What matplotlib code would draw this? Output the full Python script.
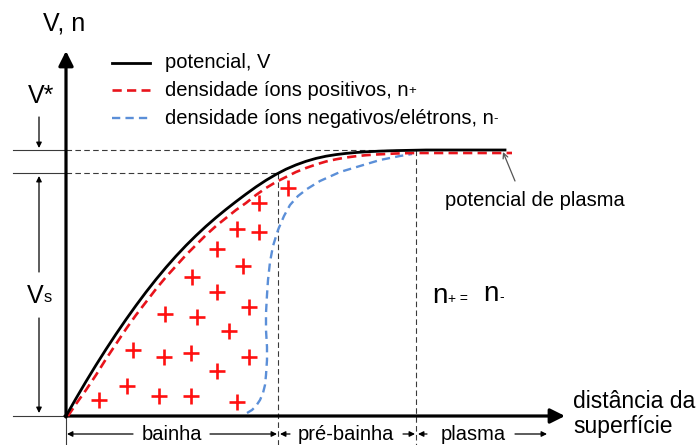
import matplotlib.pyplot as plt

plt.rcParams['font.family'] = ['Liberation Sans', 'DejaVu Sans']

# curves (schematic units, origin = surface)
pot_x = [0, 10, 20, 30, 40, 50, 60, 70, 80, 90, 100, 110, 120, 130, 140, 150, 160, 170, 180,
         190, 200, 210, 220, 230, 240, 250, 260, 270, 280, 290, 300, 310, 320, 330, 340, 350, 360, 439]
pot_y = [0, 17.5, 34.5, 50.9, 66.7, 81.9, 96.5, 110.5, 123.9, 136.6, 148.6, 159.9, 170.5, 180.4,
         189.7, 198.4, 206.6, 214.4, 221.9, 229.1, 235.7, 241.6, 246.8, 251.1, 254.7, 257.6, 259.8,
         261.4, 262.6, 263.5, 264.2, 264.7, 265.1, 265.4, 265.6, 265.8, 266, 266]

npos_x = [2, 10, 20, 30, 40, 50, 60, 70, 80, 90, 100, 110, 120, 130, 140, 150, 160, 170, 180,
          190, 200, 210, 220, 230, 240, 250, 260, 270, 280, 290, 300, 310, 320, 330, 340, 350, 360, 446]
npos_y = [0, 12, 26, 41, 57, 72, 87, 101, 114, 127, 139, 150, 161, 171, 181, 190, 198, 206, 213,
          221, 228, 234, 239, 244, 248, 251.5, 254.5, 256.7, 258.5, 259.8, 260.8, 261.5, 262, 262.5,
          262.8, 263, 263, 263]

nneg_x = [181, 186, 190, 194, 197, 199, 200, 201, 201, 200, 200, 201, 202, 204, 207, 212, 218, 224,
          232, 241, 254, 274, 294, 314, 334, 346]
nneg_y = [3, 6, 10, 16, 23, 31, 41, 56, 69, 86, 103, 121, 136, 154, 170, 186, 200, 211, 220, 227,
          235, 244, 250, 256, 260, 262]

plus_x = [33, 61, 93, 125, 171, 67, 98, 125, 151, 183, 99, 131, 163, 183, 126, 151, 177, 151, 171, 193, 193, 222]
plus_y = [16, 30, 20, 20, 14, 66, 59, 63, 45, 59, 102, 99, 85, 109, 139, 124, 150, 167, 187, 184, 213, 228]

v_plasma = 266
v_edge = 243
x_sheath = 212
x_presheath = 350

legend_labels = ['potencial, V', 'densidade íons positivos, n', 'densidade íons negativos/elétrons, n']
legend_subs = ['', '+', '-']

red = '#e8141c'
blue = '#5b8fd8'
gray = '#3a3a3a'

fig = plt.figure(figsize=(7, 4.45), dpi=100)
ax = fig.add_axes([0, 0, 1, 1])
ax.set_xlim(-66, 634)
ax.set_ylim(-29, 416)
ax.axis('off')

def arrow(x0, y0, x1, y1, lw=0.9, ms=8, color='black', style='-|>'):
    ax.annotate('', xy=(x1, y1), xytext=(x0, y0),
                arrowprops=dict(arrowstyle=style, lw=lw, color=color,
                                mutation_scale=ms, shrinkA=0, shrinkB=0))

def sub(t, s, size, dx=0.5):
    # small sign just after a text, sitting near its baseline
    return ax.annotate(s, xy=(1, 0.12), xycoords=t, xytext=(dx, 0), textcoords='offset points',
                       fontsize=size, ha='left', va='bottom')

# guide lines
ax.plot([-53, 0], [v_plasma, v_plasma], color=gray, lw=0.8)
ax.plot([-53, 0], [v_edge, v_edge], color=gray, lw=0.8)
ax.plot([-53, 0], [0, 0], color=gray, lw=0.8)
ax.plot([0, x_presheath], [v_plasma, v_plasma], color=gray, lw=0.8, ls=(0, (5, 3)))
ax.plot([0, x_sheath], [v_edge, v_edge], color=gray, lw=0.8, ls=(0, (5, 3)))
ax.plot([x_sheath, x_sheath], [v_edge, -29], color=gray, lw=0.8, ls=(0, (5, 3)))
ax.plot([x_presheath, x_presheath], [v_plasma, -29], color=gray, lw=0.8, ls=(0, (5, 3)))
ax.plot([0, 0], [0, -29], color=gray, lw=0.8)

# axes
arrow(0, -1, 0, 365, lw=2.3, ms=22)
arrow(-1, 0, 499, 0, lw=2.3, ms=22)

# curves
ax.plot(nneg_x, nneg_y, color=blue, lw=1.7, ls=(0, (3.5, 2.2)), zorder=3)
ax.plot(npos_x, npos_y, color=red, lw=1.9, ls=(0, (3.5, 2)), zorder=4)
ax.plot(pot_x, pot_y, color='black', lw=2.0, zorder=5)
ax.plot(plus_x, plus_y, ls='none', marker='+', ms=11, mew=1.9, color='#ff1010', zorder=4)

# legend
ax.plot([46, 84], [353, 353], color='black', lw=2.0)
ax.plot([46, 84], [326, 326], color=red, lw=1.9, ls=(0, (3.5, 2)))
ax.plot([46, 84], [298, 298], color=blue, lw=1.7, ls=(0, (3.5, 2.2)))
for yy, lab, s in zip([353, 326, 298], legend_labels, legend_subs):
    t = ax.text(99, yy, lab, fontsize=14.5, va='center', ha='left')
    if s:
        sub(t, s, 9.5, dx=0)

# axis labels
ax.text(-2, 393, 'V, n', fontsize=18, ha='center', va='center')
ax.text(507, 2, 'distância da\nsuperfície', fontsize=16.5, ha='left', va='center',
        linespacing=1.1)

# V* and Vs markers
ax.text(-25, 320, 'V*', fontsize=18, ha='center', va='center')
arrow(-27, 299, -27, 268)
arrow(-27, 144, -27, 240)
arrow(-27, 98, -27, 3)
tv = ax.text(-31, 120, 'V', fontsize=18, ha='center', va='center')
sub(tv, 's', 12)

# annotations
ax.text(379, 216, 'potencial de plasma', fontsize=14.5, ha='left', va='center')
arrow(449, 235, 437, 264, lw=0.9, ms=9, color='#555555', style='->')
t1 = ax.text(366, 113, 'n', fontsize=20, ha='left', va='baseline')
t2 = sub(t1, '+ =', 10)
t3 = ax.annotate('n', xy=(1, 0), xycoords=t2, xytext=(11, -1), textcoords='offset points',
                 fontsize=20, ha='left', va='bottom')
sub(t3, '-', 10)

# region labels
ax.text(106, -18, 'bainha', fontsize=14.5, ha='center', va='center')
arrow(67, -18, 1, -18)
arrow(144, -18, 211, -18)
ax.text(279.5, -18, 'pré-bainha', fontsize=14.5, ha='center', va='center')
arrow(224, -18, 214, -18)
arrow(337, -18, 349, -18)
ax.text(407.5, -18, 'plasma', fontsize=14.5, ha='center', va='center')
arrow(361, -18, 352, -18)
arrow(449, -18, 481, -18)

plt.savefig('out.png', dpi=100)
